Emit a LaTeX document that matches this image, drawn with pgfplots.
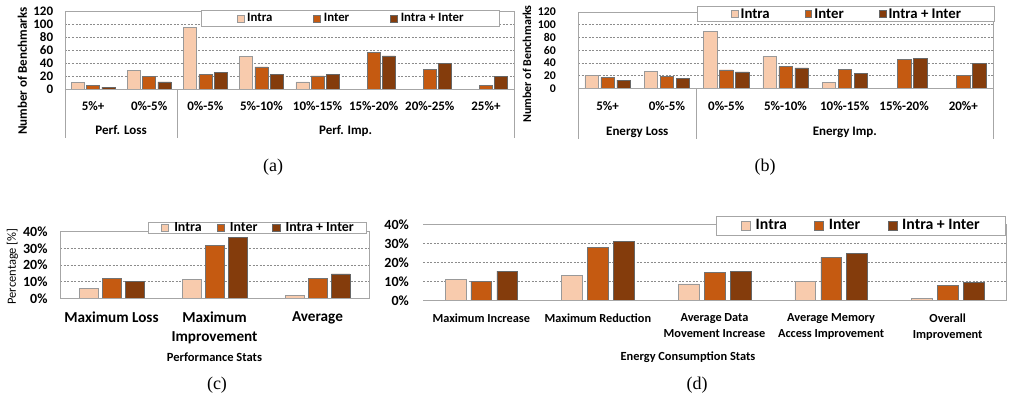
\documentclass[border=0pt]{standalone}
\usepackage{fontspec}
\usepackage{pgfplots}
\usepackage{pgfplotstable}
\pgfplotsset{compat=1.18}
\newfontfamily\calibri{Carlito}
\newfontfamily\capfont{Liberation Serif}
\definecolor{cIntra}{HTML}{F8CBAD}
\definecolor{cInter}{HTML}{C55A11}
\definecolor{cBoth}{HTML}{843C0C}
\definecolor{frame}{HTML}{A6A6A6}

\pgfplotstableread{
x intra inter both
0 10 5 3
1 29 19 11
2 95 22 26
3 50 34 22
4 11 20 22
5 nan 56 51
6 nan 30 39
7 nan 6 19
}\dataA
\pgfplotstableread{
x intra inter both
0 20 17 13
1 27 19 16
2 90 29 26
3 50 34 32
4 9 30 24
5 nan 46 47
6 nan 20 39
}\dataB
\pgfplotstableread{
x intra inter both
0 6.0 12.0 10.2
1 11.4 31.6 36.8
2 1.8 11.8 14.6
}\dataC
\pgfplotstableread{
x intra inter both
0 11.2 9.8 15.3
1 13.3 27.9 31.2
2 8.6 14.6 15.4
3 9.8 22.6 24.7
4 1.0 8.0 9.3
}\dataD

\pgfplotsset{
  mybar/.style={
    scale only axis, clip=false, ybar,
    axis line style={draw=none},
    major tick length=0pt,
    xtick style={draw=none}, ytick style={draw=none},
    ymajorgrids,
    grid style={dash pattern=on 2pt off 1.5pt, color=black!45, line width=0.45pt},
    /pgf/number format/assume math mode=true,
    legend columns=3,
    legend cell align=left,
  },
  sq/.style 2 args={legend image code/.code={\draw[##1,line width=0.5pt] (0pt,{-#1/2}) rectangle (#1,{#1/2}); \path ({#1+#2},0);}},
  intra/.style={fill=cIntra, draw=black!40, line width=0.5pt},
  inter/.style={fill=cInter, draw=black!55, line width=0.5pt},
  both/.style={fill=cBoth, draw=black!60, line width=0.5pt},
}

\begin{document}
\begin{tikzpicture}[x=1pt,y=1pt]
\path[use as bounding box] (0,0) rectangle (1009,407);

% ---------------- (a)
\begin{axis}[mybar,
  at={(65pt,269pt)}, anchor=south west,
  width=449pt, height=127pt,
  xmin=-0.5, xmax=7.5, ymin=-75.4, ymax=120,
  ytick={0,20,...,120},
  xtick={0,...,7},
  xticklabels={5\%+,0\%-5\%,0\%-5\%,5\%-10\%,10\%-15\%,15\%-20\%,20\%-25\%,25\%+},
  xticklabel style={anchor=base, inner sep=0pt, yshift=27.8pt, font=\calibri\bfseries\fontsize{13}{15}\selectfont},
  yticklabel style={anchor=east, inner sep=0pt, xshift=-11.7pt, font=\calibri\bfseries\fontsize{13}{15}\selectfont},
  bar width=13pt, ybar=2.3pt,
  ylabel={Number of Benchmarks},
  every axis y label/.style={at={(axis description cs:-0.0947,0.528)}, rotate=90, anchor=center, font=\calibri\bfseries\fontsize{13}{15}\selectfont},
  legend style={at={(axis description cs:0.635,0.941)}, anchor=center, draw=frame, fill=white,
    inner xsep=35.5pt, inner ysep=1.5pt, font=\calibri\bfseries\fontsize{12.8}{14}\selectfont,
    nodes={inner xsep=0pt, inner ysep=1.5pt},
    /tikz/every even column/.append style={column sep=41pt}},
]
\addplot[intra, sq={7pt}{3pt}] table[x=x,y=intra]{\dataA};
\addplot[inter, sq={7pt}{3pt}] table[x=x,y=inter]{\dataA};
\addplot[both, sq={7pt}{3pt}] table[x=x,y=both]{\dataA};
\legend{Intra, Inter, Intra + Inter}
\draw[frame, line width=0.7pt] (rel axis cs:0,0) -- (rel axis cs:0,1) -- (rel axis cs:1,1) -- (rel axis cs:1,0);
\draw[frame, line width=0.7pt] (axis cs:-0.5,0) -- (axis cs:7.5,0);
\draw[frame, line width=0.7pt] (axis cs:1.5,0) -- (axis cs:1.5,-75.4);
\node[anchor=base, font=\calibri\bfseries\fontsize{13}{15}\selectfont] at (axis cs:0.5,-70.6) {Perf. Loss};
\node[anchor=base, font=\calibri\bfseries\fontsize{13}{15}\selectfont] at (axis cs:4.5,-70.6) {Perf. Imp.};
\end{axis}

% ---------------- (b)
\begin{axis}[mybar,
  at={(578pt,268pt)}, anchor=south west,
  width=415pt, height=127pt,
  xmin=-0.5, xmax=6.5, ymin=-79.7, ymax=120,
  ytick={0,20,...,120},
  xtick={0,...,6},
  xticklabels={5\%+,0\%-5\%,0\%-5\%,5\%-10\%,10\%-15\%,15\%-20\%,20\%+},
  xticklabel style={anchor=base, inner sep=0pt, yshift=28.1pt, font=\calibri\bfseries\fontsize{13}{15}\selectfont},
  yticklabel style={anchor=east, inner sep=0pt, xshift=-22pt, font=\calibri\bfseries\fontsize{11.8}{14}\selectfont},
  bar width=13.5pt, ybar=2.5pt,
  ylabel={Number of Benchmarks},
  every axis y label/.style={at={(axis description cs:-0.1229,0.59)}, rotate=90, anchor=center, font=\calibri\bfseries\fontsize{12}{14}\selectfont},
  legend style={at={(axis description cs:0.6458,0.984)}, anchor=center, draw=frame, fill=white,
    inner xsep=33.5pt, inner ysep=1pt, font=\calibri\bfseries\fontsize{14.8}{16}\selectfont,
    nodes={inner xsep=0pt, inner ysep=1pt},
    /tikz/every even column/.append style={column sep=35pt}},
]
\addplot[intra, sq={6.7pt}{2.5pt}] table[x=x,y=intra]{\dataB};
\addplot[inter, sq={6.7pt}{2.5pt}] table[x=x,y=inter]{\dataB};
\addplot[both, sq={6.7pt}{2.5pt}] table[x=x,y=both]{\dataB};
\legend{Intra, Inter, Intra + Inter}
\draw[frame, line width=0.7pt] (rel axis cs:0,0) -- (rel axis cs:0,1) -- (rel axis cs:1,1) -- (rel axis cs:1,0);
\draw[frame, line width=0.7pt] (axis cs:-0.5,0) -- (axis cs:6.5,0);
\draw[frame, line width=0.7pt] (axis cs:1.5,0) -- (axis cs:1.5,-79.7);
\node[anchor=base, font=\calibri\bfseries\fontsize{13}{15}\selectfont] at (axis cs:0.5,-74.8) {Energy Loss};
\node[anchor=base, font=\calibri\bfseries\fontsize{13}{15}\selectfont] at (axis cs:4,-74.8) {Energy Imp.};
\end{axis}

% ---------------- (c)
\begin{axis}[mybar,
  at={(60pt,108.7pt)}, anchor=south west,
  width=309pt, height=66.6pt,
  xmin=-0.5, xmax=2.5, ymin=0, ymax=40,
  ytick={0,10,...,40},
  yticklabel={\pgfmathprintnumber{\tick}\%},
  xtick={0,1,2},
  xticklabels={Maximum Loss, Maximum\\Improvement, Average},
  xticklabel style={anchor=north, inner sep=0pt, yshift=-13pt, align=center, font=\calibri\bfseries\fontsize{15.2}{19}\selectfont},
  yticklabel style={anchor=east, inner sep=0pt, xshift=-12.3pt, font=\calibri\bfseries\fontsize{14}{16}\selectfont},
  bar width=18.5pt, ybar=4.5pt,
  ylabel={Percentage [\%]},
  every axis y label/.style={at={(axis description cs:-0.1537,0.477)}, rotate=90, anchor=center, font=\calibri\fontsize{12.5}{15}\selectfont},
  xlabel={Performance Stats},
  every axis x label/.style={at={(axis description cs:0.5,-0.877)}, anchor=center, font=\calibri\bfseries\fontsize{12.5}{15}\selectfont},
  legend style={at={(axis description cs:0.639,1.0556)}, anchor=center, draw=frame, fill=white,
    inner xsep=12.5pt, inner ysep=0.3pt, font=\calibri\bfseries\fontsize{13.9}{15}\selectfont,
    nodes={inner xsep=0pt, inner ysep=0pt},
    /tikz/every even column/.append style={column sep=15pt}},
]
\addplot[intra, sq={7.3pt}{5.4pt}] table[x=x,y=intra]{\dataC};
\addplot[inter, sq={7.3pt}{5.4pt}] table[x=x,y=inter]{\dataC};
\addplot[both, sq={7.3pt}{5.4pt}] table[x=x,y=both]{\dataC};
\legend{Intra, Inter, Intra + Inter}
\draw[frame, line width=0.7pt] (rel axis cs:0,0) rectangle (rel axis cs:1,1);
\end{axis}

% ---------------- (d)
\begin{axis}[mybar,
  at={(423pt,106.7pt)}, anchor=south west,
  width=583pt, height=76pt,
  xmin=-0.5, xmax=4.5, ymin=0, ymax=40,
  ytick={0,10,...,40},
  yticklabel={\pgfmathprintnumber{\tick}\%},
  xtick={0,...,4},
  xticklabels={Maximum Increase, Maximum Reduction, Average Data\\Movement Increase, Average Memory\\Access Improvement, Overall\\Improvement},
  xticklabel style={anchor=north, inner sep=0pt, yshift=-13.5pt, align=center, font=\calibri\bfseries\fontsize{12.3}{16}\selectfont},
  yticklabel style={anchor=east, inner sep=0pt, xshift=-14pt, font=\calibri\bfseries\fontsize{14}{16}\selectfont},
  bar width=20.7pt, ybar=5.2pt,
  xlabel={Energy Consumption Stats},
  every axis x label/.style={at={(axis description cs:0.4545,-0.742)}, anchor=center, font=\calibri\bfseries\fontsize{12.4}{15}\selectfont},
  legend style={at={(axis description cs:0.7504,0.984)}, anchor=center, draw=frame, fill=white,
    inner xsep=25pt, inner ysep=1.5pt, font=\calibri\bfseries\fontsize{15.8}{17}\selectfont,
    nodes={inner xsep=0pt, inner ysep=2pt},
    /tikz/every even column/.append style={column sep=27.5pt}},
]
\addplot[intra, sq={9pt}{5pt}] table[x=x,y=intra]{\dataD};
\addplot[inter, sq={9pt}{5pt}] table[x=x,y=inter]{\dataD};
\addplot[both, sq={9pt}{5pt}] table[x=x,y=both]{\dataD};
\legend{Intra, Inter, Intra + Inter}
\draw[frame, line width=0.7pt] (rel axis cs:0,0) -- (rel axis cs:1,0) -- (rel axis cs:1,1) -- (rel axis cs:0,1);
\end{axis}

% captions
\node[font=\capfont\fontsize{18}{20}\selectfont] at (273pt,240pt) {(a)};
\node[font=\capfont\fontsize{18}{20}\selectfont] at (765pt,240pt) {(b)};
\node[font=\capfont\fontsize{18}{20}\selectfont] at (217pt,22pt) {(c)};
\node[font=\capfont\fontsize{18}{20}\selectfont] at (697pt,22pt) {(d)};
\end{tikzpicture}
\end{document}
